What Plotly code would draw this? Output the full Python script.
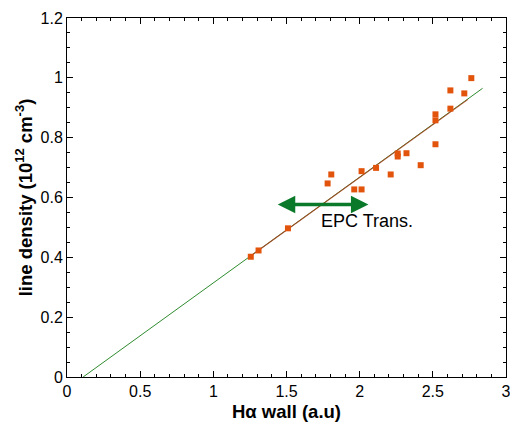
import plotly.graph_objects as go

# Measured data (Hα wall vs line density)
halpha_wall = [1.256, 1.309, 1.51, 1.781, 1.806, 1.963, 2.013, 2.013, 2.112, 2.212,
               2.26, 2.26, 2.32, 2.417, 2.518, 2.518, 2.518, 2.62, 2.62, 2.715, 2.763]
line_density = [0.402, 0.423, 0.497, 0.647, 0.677, 0.627, 0.627, 0.688, 0.699, 0.677,
                0.747, 0.737, 0.748, 0.708, 0.878, 0.858, 0.778, 0.958, 0.897, 0.948, 0.999]

# Fit lines
green_fit_x = [0.11, 2.84]
green_fit_y = [0.0, 0.965]
red_fit_x = [1.25, 2.74]
red_fit_y = [0.403, 0.928]

# EPC transition arrow
epc_arrow_x = [1.43, 2.06]
epc_arrow_y = [0.577, 0.577]
epc_label = "EPC Trans."
epc_label_pos = [2.05, 0.522]

x_ticks = [0, 0.5, 1, 1.5, 2, 2.5, 3]
x_tick_text = ["0", "0.5", "1", "1.5", "2", "2.5", "3"]
y_ticks = [0, 0.2, 0.4, 0.6, 0.8, 1.0, 1.2]
y_tick_text = ["0", "0.2", "0.4", "0.6", "0.8", "1", "1.2"]

fig = go.Figure()
fig.add_trace(go.Scatter(x=green_fit_x, y=green_fit_y, mode="lines",
                         line=dict(color="#2e8b2e", width=1), hoverinfo="skip"))
fig.add_trace(go.Scatter(x=red_fit_x, y=red_fit_y, mode="lines",
                         line=dict(color="#a8401c", width=1.2), opacity=0.85, hoverinfo="skip"))
fig.add_trace(go.Scatter(x=halpha_wall, y=line_density, mode="markers",
                         marker=dict(symbol="square", size=6, color="#e2540c", line=dict(width=0))))

# double-headed arrow
fig.add_annotation(x=epc_arrow_x[1], y=epc_arrow_y[1], ax=epc_arrow_x[0], ay=epc_arrow_y[0],
                   xref="x", yref="y", axref="x", ayref="y", text="", showarrow=True,
                   arrowhead=2, arrowside="end+start", arrowsize=1.0, arrowwidth=3.5,
                   arrowcolor="#0a7a2a")
fig.add_annotation(x=epc_label_pos[0], y=epc_label_pos[1], xref="x", yref="y",
                   text=epc_label, showarrow=False,
                   font=dict(family="Liberation Sans, Arial", size=18, color="black"))

axis_common = dict(showline=True, linecolor="black", linewidth=1, mirror="ticks",
                   ticks="inside", ticklen=6, tickcolor="black", showgrid=False, zeroline=False,
                   automargin=False, ticklabeloverflow="allow",
                   tickfont=dict(family="Liberation Sans, Arial", size=16, color="black"))

fig.update_xaxes(range=[0, 3], tickvals=x_ticks, ticktext=x_tick_text,
                 minor=dict(dtick=0.1, ticks="inside", ticklen=3, tickcolor="black"),
                 title=dict(text="<b>Hα wall (a.u)</b>", standoff=5,
                            font=dict(family="Liberation Sans, Arial", size=18.5, color="black")),
                 **axis_common)
fig.update_yaxes(range=[0, 1.2], tickvals=y_ticks, ticktext=y_tick_text,
                 minor=dict(dtick=0.05, ticks="inside", ticklen=3, tickcolor="black"),
                 title=dict(text="<b>line density (10<sup>12</sup> cm<sup>-3</sup>)</b>", standoff=3,
                            font=dict(family="Liberation Sans, Arial", size=18.5, color="black")),
                 **axis_common)

fig.update_layout(width=510, height=425, showlegend=False,
                  margin=dict(l=67, r=4, t=18, b=48),
                  plot_bgcolor="white", paper_bgcolor="white")

fig.write_html("out.html", config={"displayModeBar": False},
               post_script="document.body.style.margin='0';document.body.style.overflow='hidden';")
